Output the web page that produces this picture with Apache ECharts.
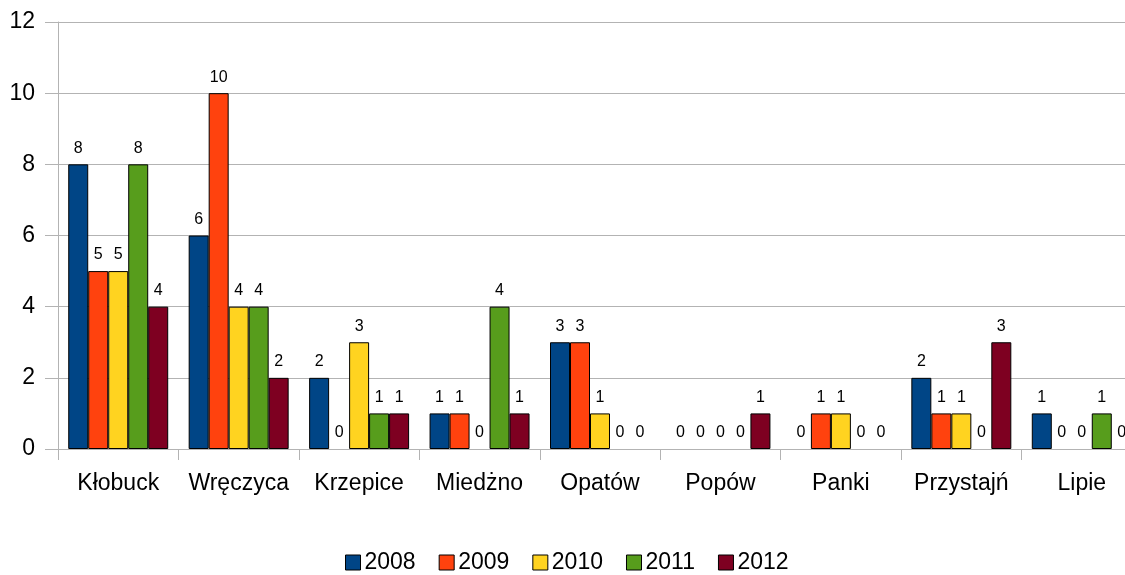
<!DOCTYPE html>
<html><head><meta charset="utf-8">
<script src="https://cdn.jsdelivr.net/npm/echarts@6/dist/echarts.min.js"></script>
<style>html,body{margin:0;padding:0;background:#fff;overflow:hidden;width:1125px;height:575px}#c{width:1145px;height:575px}</style>
</head><body><div id="c"></div>
<script>
const categories = ["Kłobuck","Wręczyca","Krzepice","Miedżno","Opatów","Popów","Panki","Przystajń","Lipie"];
const seriesNames = ["2008","2009","2010","2011","2012"];
const v2008 = [8,6,2,1,3,0,0,2,1];
const v2009 = [5,10,0,1,3,0,1,1,0];
const v2010 = [5,4,3,0,1,0,1,1,0];
const v2011 = [8,4,1,4,0,0,0,0,1];
const v2012 = [4,2,1,1,0,1,0,3,0];
const yTicks = [0,2,4,6,8,10,12];
const values = [v2008,v2009,v2010,v2011,v2012];
const colors = ["#004586","#ff420e","#ffd320","#579d1c","#7e0021"];
const font = "Liberation Sans, Arial, sans-serif";
const chart = echarts.init(document.getElementById('c'));
chart.setOption({
  animation:false,
  color: colors,
  grid:{left:58, width:1084, top:22, bottom:126, containLabel:false},
  legend:{
    top:546, left:340, itemWidth:15, itemHeight:15, itemGap:23,
    icon:'rect',
    textStyle:{fontFamily:font, fontSize:23, color:'#000', padding:[0,0,0,-1]},
    itemStyle:{borderColor:'#000', borderWidth:1}
  },
  xAxis:{
    type:'category', data:categories,
    axisLine:{lineStyle:{color:'#b3b3b3'}},
    axisTick:{show:true, length:11, lineStyle:{color:'#b3b3b3'}},
    axisLabel:{fontFamily:font, fontSize:23, color:'#000', margin:23, interval:0}
  },
  yAxis:{
    type:'value', min:0, max:12, interval:2,
    axisLine:{show:true, lineStyle:{color:'#b3b3b3'}},
    axisTick:{show:true, length:13, lineStyle:{color:'#b3b3b3'}},
    splitLine:{lineStyle:{color:'#b3b3b3'}},
    axisLabel:{fontFamily:font, fontSize:23, color:'#000', margin:23,
      formatter: v => yTicks.includes(v) ? String(v) : ''}
  },
  series: seriesNames.map((n,i)=>({
    name:n, type:'bar',
    data:values[i].map(v => v === 0 ? {value:v, itemStyle:{borderWidth:0}} : v),
    barGap:'0%', barCategoryGap:'17%',
    itemStyle:{color:colors[i], borderColor:'#000', borderWidth:1},
    label:{show:true, position:'top', distance:8, fontFamily:font, fontSize:16, color:'#000'}
  }))
});
</script></body></html>
